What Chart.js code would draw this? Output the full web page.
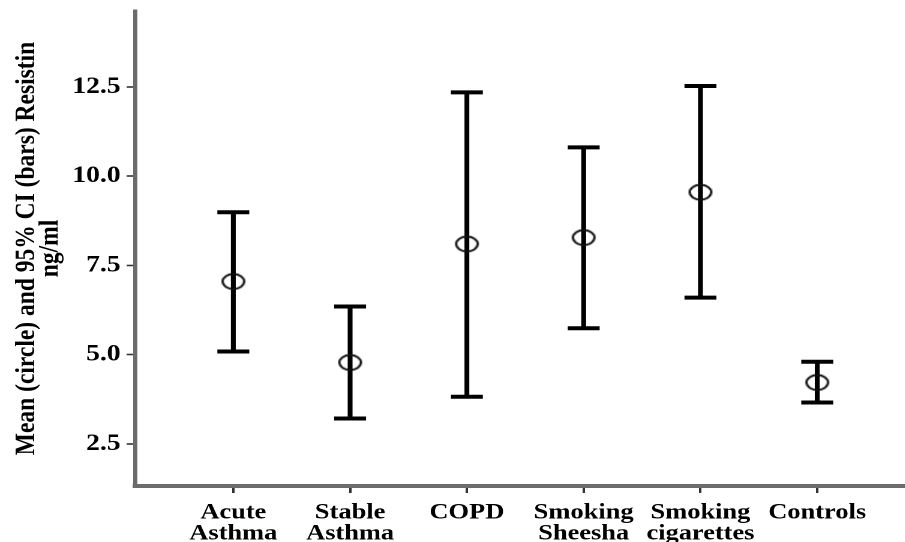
<!DOCTYPE html>
<html lang="en">
  <head>
    <meta charset="UTF-8" />
    <title>Resistin by group</title>
    <script src="https://cdn.jsdelivr.net/npm/chart.js"></script>
    <style>
      * {
        margin: 0;
        padding: 0;
        box-sizing: border-box;
      }

      body {
        background-color: #ffffff;
        overflow: hidden;
      }

      /* the original figure is stretched sideways, so stretch ours the same way */
      .wrap {
        width: 754px;
        height: 542px;
        transform: scaleX(1.2);
        transform-origin: 0 0;
      }
    </style>
  </head>
  <body>
    <div class="wrap">
      <canvas id="resistinChart" width="754" height="542"></canvas>
    </div>

    <script>
      // group labels (two lines each, like the original)
      const groups = [
        ["Acute", "Asthma"],
        ["Stable", "Asthma"],
        ["COPD"],
        ["Smoking", "Sheesha"],
        ["Smoking", "cigarettes"],
        ["Controls"],
      ];
      // mean resistin, ng/ml
      const means = [7.05, 4.78, 8.1, 8.28, 9.55, 4.22];
      // 95% CI limits
      const lower = [5.09, 3.21, 3.82, 5.74, 6.6, 3.66];
      const upper = [8.99, 6.35, 12.35, 10.81, 12.53, 4.8];
      const yTicks = [2.5, 5, 7.5, 10, 12.5];

      const font = "'Liberation Serif', 'Times New Roman', serif";

      // open ellipse used as the mean marker
      function makeRing() {
        var c = document.createElement("canvas");
        c.width = 22;
        c.height = 18;
        var g = c.getContext("2d");
        g.strokeStyle = "#111";
        g.lineWidth = 2;
        g.beginPath();
        g.ellipse(11, 9, 9, 7.4, 0, 0, Math.PI * 2);
        g.stroke();
        return c;
      }

      var stems = groups.map((g, i) => ({ x: i + 1, y: [lower[i], upper[i]] }));
      var caps = [];
      groups.forEach((g, i) => {
        caps.push({ x: i + 1, y: lower[i] });
        caps.push({ x: i + 1, y: upper[i] });
      });
      var meanPoints = groups.map((g, i) => ({ x: i + 1, y: means[i] }));

      var ctx = document.getElementById("resistinChart").getContext("2d");
      new Chart(ctx, {
        data: {
          datasets: [
            {
              type: "scatter",
              label: "Mean",
              data: meanPoints,
              pointStyle: makeRing(),
              order: 0,
            },
            {
              type: "scatter",
              label: "CI caps",
              data: caps,
              pointStyle: "line",
              pointRadius: 13.3,
              borderWidth: 4,
              borderColor: "#000",
              order: 1,
            },
            {
              type: "bar",
              label: "CI",
              data: stems,
              backgroundColor: "#000",
              barThickness: 3.4,
              order: 2,
            },
          ],
        },
        options: {
          responsive: false,
          animation: false,
          devicePixelRatio: 2,
          layout: {
            autoPadding: false,
            padding: { top: 11, left: 0, right: 0, bottom: 0 },
          },
          plugins: {
            legend: { display: false },
            tooltip: { enabled: false },
          },
          scales: {
            x: {
              type: "linear",
              min: 0.158,
              max: 6.75,
              offset: false,
              afterBuildTicks: (scale) => {
                scale.ticks = groups.map((g, i) => ({ value: i + 1 }));
              },
              afterFit: (scale) => {
                scale.height = 56;
                // axis runs to the right edge, like the original
                scale.paddingLeft = 0;
                scale.paddingRight = 0;
              },
              grid: {
                offset: false,
                drawOnChartArea: false,
                tickLength: 7,
                tickWidth: 2,
                tickColor: "#333",
              },
              border: { color: "#6b6b6b", width: 4 },
              ticks: {
                color: "#000",
                padding: 9,
                maxRotation: 0,
                autoSkip: false,
                font: { family: font, size: 22, weight: "bold", lineHeight: 0.97 },
                callback: (v) => groups[v - 1],
              },
            },
            y: {
              type: "linear",
              min: 1.32,
              max: 14.63,
              afterBuildTicks: (scale) => {
                scale.ticks = yTicks.map((v) => ({ value: v }));
              },
              afterFit: (scale) => {
                scale.width = 112.5;
                scale.paddingTop = 0;
                scale.paddingBottom = 0;
              },
              grid: {
                drawOnChartArea: false,
                tickLength: 7,
                tickWidth: 1.6,
                tickColor: "#333",
              },
              border: { color: "#6b6b6b", width: 3.4 },
              ticks: {
                color: "#000",
                padding: 5,
                font: { family: font, size: 23, weight: "bold" },
                callback: (v) => v.toFixed(1),
              },
              title: {
                display: true,
                text: ["Mean (circle) and 95% CI (bars) Resistin", "ng/ml"],
                color: "#000",
                padding: { top: 13, bottom: 0 },
                font: { family: font, size: 23.5, weight: "bold", lineHeight: 0.82 },
              },
            },
          },
        },
      });
    </script>
  </body>
</html>
